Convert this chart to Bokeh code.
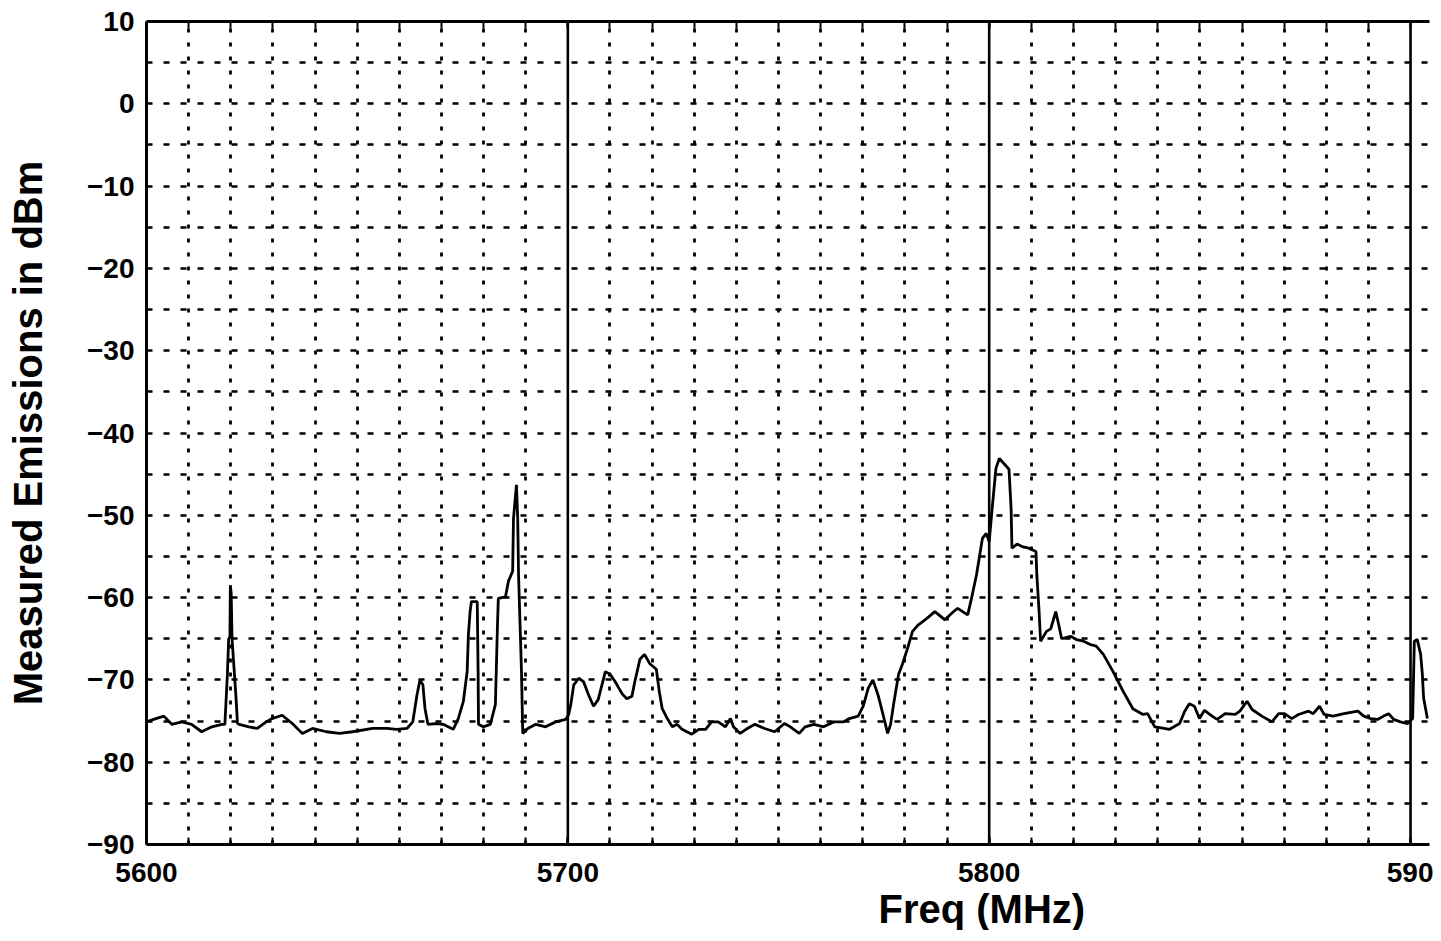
from bokeh.plotting import figure
from bokeh.models import Range1d, FixedTicker, LinearAxis, Span, Title
from bokeh.embed import file_html
from bokeh.resources import INLINE

# ---- data ----
freq_mhz = [
    5600.0, 5601.7, 5604.1, 5606.0, 5608.4, 5610.7, 5613.1, 5615.5, 5617.9, 5618.6,
    5619.2, 5619.5, 5619.8, 5619.9, 5620.1, 5620.3, 5621.2, 5621.6, 5622.0, 5624.3,
    5626.3, 5628.4, 5629.8, 5632.2, 5634.6, 5637.0, 5639.4, 5642.7, 5645.8, 5648.9,
    5653.7, 5657.0, 5659.4, 5661.8, 5663.2, 5664.2, 5664.9, 5665.6, 5666.1, 5666.8,
    5669.0, 5670.4, 5672.8, 5674.0, 5675.2, 5676.1, 5676.4, 5676.8, 5677.1, 5678.5,
    5678.7, 5678.8, 5679.9, 5681.6, 5682.8, 5683.3, 5683.5, 5685.2, 5685.9, 5686.9,
    5687.1, 5687.8, 5688.1, 5688.3, 5689.0, 5689.3, 5690.5, 5692.4, 5694.7, 5697.1,
    5699.5, 5700.2, 5700.7, 5701.4, 5702.6, 5703.7, 5704.9, 5706.1, 5707.2, 5708.2,
    5708.9, 5710.0, 5711.2, 5712.9, 5714.0, 5715.2, 5715.9, 5717.1, 5718.2, 5719.4,
    5721.0, 5721.7, 5722.4, 5723.6, 5724.8, 5725.9, 5727.1, 5729.4, 5731.1, 5732.7,
    5734.1, 5735.7, 5737.4, 5738.6, 5739.3, 5740.9, 5742.3, 5744.4, 5746.7, 5749.1,
    5751.4, 5752.8, 5754.9, 5756.3, 5758.4, 5760.7, 5763.1, 5765.4, 5766.8, 5768.9,
    5770.1, 5771.3, 5772.4, 5773.6, 5774.8, 5775.9, 5776.6, 5777.3, 5778.5, 5779.4,
    5780.6, 5781.8, 5783.2, 5785.3, 5787.1, 5789.5, 5791.1, 5792.5, 5794.9, 5795.8,
    5797.0, 5798.4, 5799.3, 5800.0, 5800.7, 5801.6, 5802.4, 5803.1, 5804.7, 5805.2,
    5805.4, 5806.6, 5807.8, 5809.4, 5811.1, 5811.3, 5811.8, 5812.2, 5813.6, 5814.6,
    5815.8, 5816.5, 5817.2, 5819.3, 5820.7, 5822.4, 5824.0, 5825.4, 5827.1, 5829.4,
    5831.8, 5834.1, 5836.5, 5837.6, 5839.3, 5840.5, 5842.8, 5845.2, 5846.4, 5847.5,
    5848.7, 5849.9, 5851.1, 5852.9, 5854.1, 5856.0, 5858.4, 5859.5, 5861.2, 5862.4,
    5864.7, 5867.1, 5868.7, 5870.1, 5871.8, 5873.4, 5875.8, 5876.9, 5878.4, 5879.5,
    5881.6, 5884.2, 5887.5, 5888.9, 5890.6, 5892.2, 5893.6, 5894.8, 5896.0, 5897.6,
    5899.3, 5900.5, 5900.9, 5901.6, 5902.4, 5902.8, 5903.1, 5904.0,
]
level_dbm = [
    -75.1, -74.8, -74.4, -75.4, -75.1, -75.4, -76.3, -75.7, -75.4, -75.4,
    -69.3, -65.0, -64.8, -58.5, -59.5, -65.0, -71.8, -75.3, -75.4, -75.7,
    -75.9, -75.1, -74.7, -74.3, -75.3, -76.5, -75.9, -76.3, -76.5, -76.3,
    -75.9, -75.9, -76.0, -75.9, -75.1, -71.8, -70.0, -70.6, -73.5, -75.4,
    -75.3, -75.4, -76.0, -74.7, -72.6, -69.0, -64.5, -61.7, -60.5, -60.5,
    -69.0, -75.4, -75.7, -75.4, -73.0, -63.3, -60.1, -59.9, -58.0, -56.8,
    -50.4, -46.3, -50.4, -57.2, -69.0, -76.5, -75.9, -75.4, -75.7, -75.1,
    -74.8, -74.2, -73.0, -70.6, -69.8, -70.2, -71.8, -73.2, -72.4, -70.4,
    -69.0, -69.3, -70.2, -71.7, -72.3, -72.0, -70.2, -67.5, -66.9, -68.0,
    -68.7, -71.4, -73.5, -74.7, -75.7, -75.4, -76.0, -76.6, -76.0, -76.0,
    -75.1, -75.1, -75.7, -74.7, -75.7, -76.5, -76.0, -75.4, -75.9, -76.3,
    -75.3, -75.7, -76.5, -75.7, -75.4, -75.7, -75.1, -75.1, -74.7, -74.4,
    -73.2, -71.0, -70.0, -71.8, -74.2, -76.5, -75.4, -73.0, -69.3, -68.1,
    -66.2, -64.1, -63.3, -62.5, -61.7, -62.7, -61.9, -61.3, -62.1, -60.1,
    -57.2, -52.8, -52.2, -53.2, -49.2, -44.3, -43.1, -43.5, -44.4, -49.2,
    -54.0, -53.5, -53.8, -54.0, -54.4, -57.2, -61.3, -65.3, -64.1, -63.8,
    -61.7, -63.3, -65.0, -64.7, -65.1, -65.3, -65.7, -65.9, -66.9, -69.0,
    -71.4, -73.5, -74.2, -74.1, -75.7, -75.8, -76.0, -75.3, -73.8, -72.9,
    -73.2, -74.7, -73.7, -74.4, -74.8, -74.1, -74.2, -73.8, -72.6, -73.6,
    -74.4, -75.1, -74.1, -74.1, -74.7, -74.2, -73.8, -74.1, -73.2, -74.2,
    -74.4, -74.1, -73.8, -74.4, -74.7, -74.8, -74.4, -74.1, -74.8, -75.1,
    -75.3, -74.7, -65.3, -65.1, -66.9, -69.3, -72.2, -74.7,
]

x_major_ticks = [5600, 5700, 5800, 5900]
x_tick_labels = {5600: "5600", 5700: "5700", 5800: "5800", 5900: "590"}
x_minor_ticks = [5600, 5610, 5620, 5630, 5640, 5650, 5660, 5670, 5680, 5690,
                 5700, 5710, 5720, 5730, 5740, 5750, 5760, 5770, 5780, 5790,
                 5800, 5810, 5820, 5830, 5840, 5850, 5860, 5870, 5880, 5890, 5900]
x_grid_ticks = [5610, 5620, 5630, 5640, 5650, 5660, 5670, 5680, 5690,
                5710, 5720, 5730, 5740, 5750, 5760, 5770, 5780, 5790,
                5810, 5820, 5830, 5840, 5850, 5860, 5870, 5880, 5890]
y_major_ticks = [-90, -80, -70, -60, -50, -40, -30, -20, -10, 0, 10]
y_tick_labels = {-90: "\u221290", -80: "\u221280", -70: "\u221270", -60: "\u221260",
                 -50: "\u221250", -40: "\u221240", -30: "\u221230", -20: "\u221220",
                 -10: "\u221210", 0: "0", 10: "10"}
y_grid_ticks = [-85, -80, -75, -70, -65, -60, -55, -50, -45, -40, -35, -30,
                -25, -20, -15, -10, -5, 0, 5]
solid_divisions = [5700, 5800, 5900]

FONT = "Liberation Sans"
INK = "black"

p = figure(width=1433, height=930, output_backend="svg", toolbar_location=None,
           x_range=Range1d(5600, 5904.5), y_range=Range1d(-90, 10),
           x_axis_location=None, y_axis_location=None)
p.outline_line_color = None
p.min_border_left = 146
p.min_border_right = 4
p.min_border_top = 21
p.background_fill_color = "white"
p.border_fill_color = "white"

# grid
p.xgrid.ticker = FixedTicker(ticks=x_grid_ticks)
p.xgrid.grid_line_color = INK
p.xgrid.grid_line_width = 2.8
p.xgrid.grid_line_dash = "4 10"
p.ygrid.ticker = FixedTicker(ticks=y_grid_ticks)
p.ygrid.grid_line_color = INK
p.ygrid.grid_line_width = 2.4
p.ygrid.grid_line_dash = "6 11"

for f in solid_divisions:
    p.add_layout(Span(location=f, dimension="height", line_color=INK, line_width=2.6))

# axes
yax = LinearAxis(ticker=FixedTicker(ticks=y_major_ticks),
                 major_label_overrides=y_tick_labels,
                 axis_label="Measured Emissions in dBm")
yax.axis_line_width = 3
yax.axis_line_color = INK
yax.major_tick_out = 0
yax.major_tick_in = 0
yax.minor_tick_out = 0
yax.major_label_standoff = 12
yax.major_label_text_font = FONT
yax.major_label_text_font_style = "bold"
yax.major_label_text_font_size = "28px"
yax.major_label_text_color = INK
yax.axis_label_text_font = FONT
yax.axis_label_text_font_style = "bold"
yax.axis_label_text_font_size = "40px"
yax.axis_label_text_color = INK
yax.axis_label_standoff = 34
p.add_layout(yax, "left")

xax = LinearAxis(ticker=FixedTicker(ticks=x_major_ticks, minor_ticks=x_minor_ticks),
                 major_label_overrides=x_tick_labels)
xax.axis_line_width = 3
xax.axis_line_color = INK
xax.major_tick_out = 0
xax.major_tick_in = 7
xax.minor_tick_out = 0
xax.minor_tick_in = 7
xax.major_tick_line_width = 2
xax.minor_tick_line_width = 2
xax.major_tick_line_color = INK
xax.minor_tick_line_color = INK
xax.major_label_standoff = 18
xax.major_label_text_font = FONT
xax.major_label_text_font_style = "bold"
xax.major_label_text_font_size = "28px"
xax.major_label_text_color = INK
p.add_layout(xax, "below")

top = LinearAxis(ticker=FixedTicker(ticks=[], minor_ticks=x_minor_ticks))
top.axis_line_width = 3
top.axis_line_color = INK
top.major_tick_out = 0
top.major_tick_in = 0
top.minor_tick_out = 0
top.minor_tick_in = 7
top.minor_tick_line_width = 2
top.minor_tick_line_color = INK
p.add_layout(top, "above")

p.add_layout(Title(text="Freq (MHz)", align="left", offset=732,
                   text_font=FONT, text_font_style="bold", text_font_size="40px",
                   text_color=INK, standoff=0), "below")

p.line(freq_mhz, level_dbm, line_color=INK, line_width=2.8)

open("out.html", "w").write(file_html(p, INLINE))
